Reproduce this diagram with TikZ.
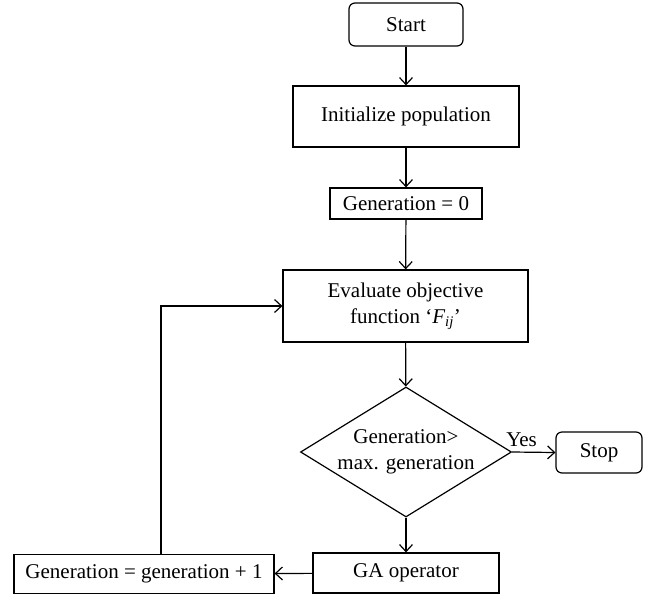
\documentclass[tikz,border=0pt]{standalone}
\usepackage{fontspec}
\setmainfont{Liberation Serif}
\usetikzlibrary{shapes.geometric,arrows.meta}
\begin{document}
\begin{tikzpicture}[x=1pt,y=-1pt,
  every node/.style={font=\fontsize{21}{26}\selectfont},
  box/.style={draw,line width=1.2pt,rectangle,inner sep=0pt,align=center},
  term/.style={box,rounded corners=6pt},
  decision/.style={draw,line width=1.2pt,diamond,aspect=1.62,inner sep=0pt,align=center,minimum width=211pt,minimum height=130pt},
  arr/.style={line width=1.2pt,-{Straight Barb[length=7pt,width=13pt]}},
  lbl/.style={inner sep=0pt}]
\useasboundingbox (0,0) rectangle (648,598);
\node[term,minimum width=114pt,minimum height=43pt] (start) at (406,24.5) {Start};
\node[box,minimum width=226pt,minimum height=61pt] (init) at (406,116.5) {Initialize population};
\node[box,minimum width=152pt,minimum height=31pt] (gen0) at (406,203.5) {Generation = 0};
\node[box,minimum width=245pt,minimum height=72pt] (eval) at (405.5,306) {Evaluate objective\\function ‘{\itshape F\textsubscript{ij}}’};
\node[decision] (dec) at (406,452) {Generation>\\max. generation};
\node[term,minimum width=86pt,minimum height=41pt] (stop) at (599,452.5) {Stop};
\node[box,minimum width=186pt,minimum height=40pt] (ga) at (406,573) {GA operator};
\node[box,minimum width=260pt,minimum height=39pt] (inc) at (144,574) {Generation = generation + 1};
\coordinate (lx) at (161,0);
\draw[arr] (start) -- (init);
\draw[arr] (init) -- (gen0);
\draw[arr] (gen0) -- (eval);
\draw[arr] (eval) -- (dec);
\draw[arr] (dec) -- (ga);
\draw[arr] (dec.east) -- node[lbl,pos=0.22,above=5pt] {Yes} (stop.west);
\draw[arr] (ga) -- (inc);
\draw[arr] (inc.north -| lx) |- (eval.west);
\end{tikzpicture}
\end{document}
